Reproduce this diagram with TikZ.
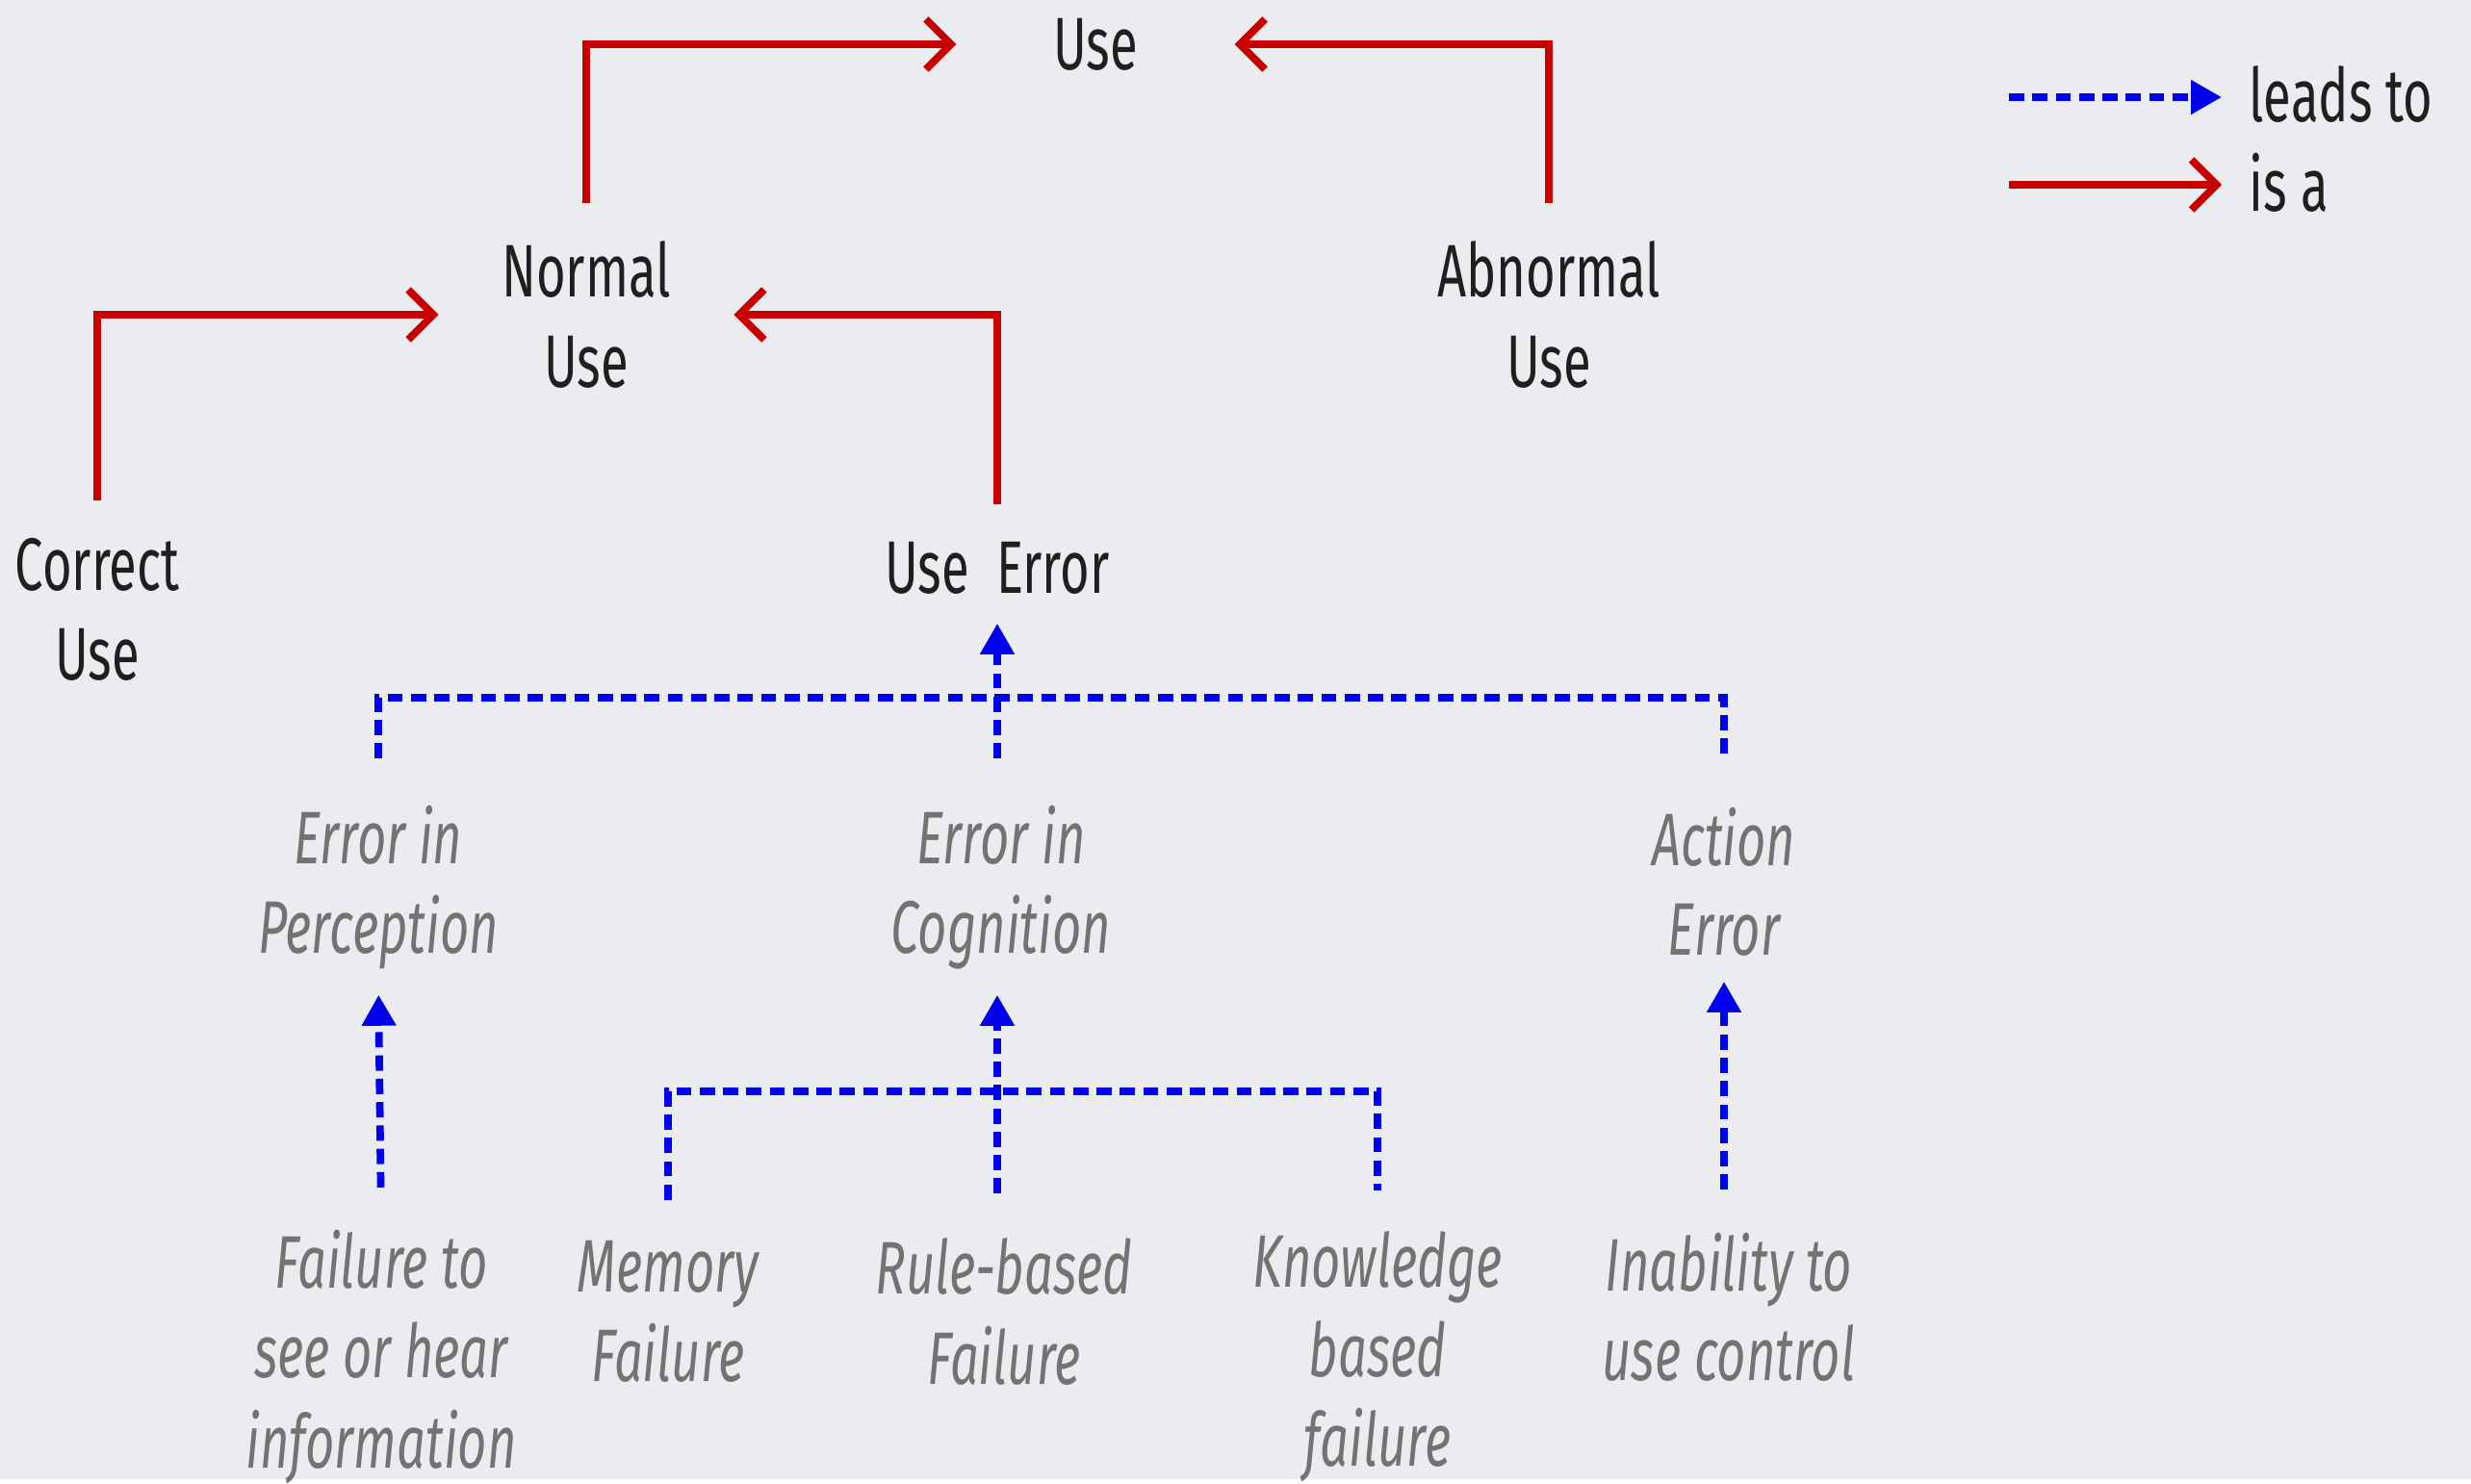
\documentclass[tikz,border=0pt]{standalone}
\usepackage{fontspec}
\setmainfont{Fira Sans}[FakeStretch=0.68]
\usepackage{xcolor}
\usepackage{tikz}
\usetikzlibrary{positioning,arrows.meta}

\definecolor{bgcol}{RGB}{234,236,240}
\definecolor{isared}{RGB}{200,0,0}
\definecolor{leadblue}{RGB}{0,0,235}
\definecolor{modegray}{RGB}{115,115,115}

\begin{document}
\begin{tikzpicture}[x=0.1mm, y=-0.1mm,
concept/.style={font=\fontsize{22}{26.5}\selectfont, text=black!88, align=center, inner sep=0pt},
mode/.style={concept, font=\fontsize{22}{26.5}\selectfont\itshape, text=modegray},
isa/.style={draw=isared, line width=2.2pt, -{Straight Barb[length=2.6mm, width=5.2mm]}},
bracket/.style={draw=leadblue, line width=2.2pt, dash pattern=on 4.5pt off 2.4pt},
leads/.style={bracket, -{Triangle[length=3.2mm, width=3.4mm]}}
]
\fill[bgcol] (0,0) rectangle (2567,1537);

%create nodes
\node[concept] (use) at (1138,46) {Use};
\node[concept] (normal) at (609,327) {Normal\\Use};
\node[concept] (abnormal) at (1609,327) {Abnormal\\Use};
\node[concept] (correct) at (101,633) {Correct\\Use};
\node[concept] (useerr) at (1036,590) {Use\ \ Error};

\node[mode] (perc) at (393,922) {Error in\\Perception};
\node[mode] (cogn) at (1040,922) {Error in\\Cognition};
\node[mode] (act) at (1791,916) {Action\\Error};

\node[mode] (failsee) at (396,1410) {Failure to\\see or hear\\information};
\node[mode] (memory) at (694,1363) {Memory\\Failure};
\node[mode] (rule) at (1043,1363) {Rule-based\\Failure};
\node[mode] (knowl) at (1431,1410) {Knowledge\\based\\failure};
\node[mode] (inab) at (1796,1358) {Inability to\\use control};

%legend
\node[concept, anchor=west] (leadsto) at (2336,98) {leads to};
\node[concept, anchor=west] (isaleg) at (2336,190) {is a};
\coordinate (l1) at (2087,101);
\coordinate (l2) at (2087,192);

%junctions of the dashed brackets
\coordinate (j1) at (1036,725);
\coordinate (j2) at (1036,1134);

%draw is-a paths
\draw[isa, shorten <=3.9mm, shorten >=10mm] (normal) |- (use);
\draw[isa, shorten <=3.9mm, shorten >=10mm] (abnormal) |- (use);
\draw[isa, shorten <=3.8mm, shorten >=6.5mm] (correct.north) |- (normal);
\draw[isa, shorten <=3.8mm, shorten >=6.5mm] (useerr.north) |- (normal);

%draw leads-to paths
\draw[bracket, shorten <=4.8mm, shorten >=4.8mm] (perc.north) |- (j1) -| (act.north);
\draw[leads, shorten <=4.8mm, shorten >=3mm] (perc.north -| j1) -- (useerr.south -| j1);
\draw[leads, shorten <=4.4mm, shorten >=2.6mm] (failsee.north) -- (perc.south);
\draw[leads, shorten <=4.4mm, shorten >=2.6mm] (inab.north -| act) -- (act.south);
\draw[bracket, shorten <=4.2mm, shorten >=4.2mm] (memory.north) |- (j2) -| (knowl.north);
\draw[leads, shorten <=4.6mm, shorten >=2.6mm] (rule.north -| j2) -- (cogn.south -| j2);

%legend paths
\draw[leads, shorten >=2.8mm] (l1) -- (leadsto.west |- l1);
\draw[isa, shorten >=2.8mm] (l2) -- (isaleg.west |- l2);
\end{tikzpicture}
\end{document}
